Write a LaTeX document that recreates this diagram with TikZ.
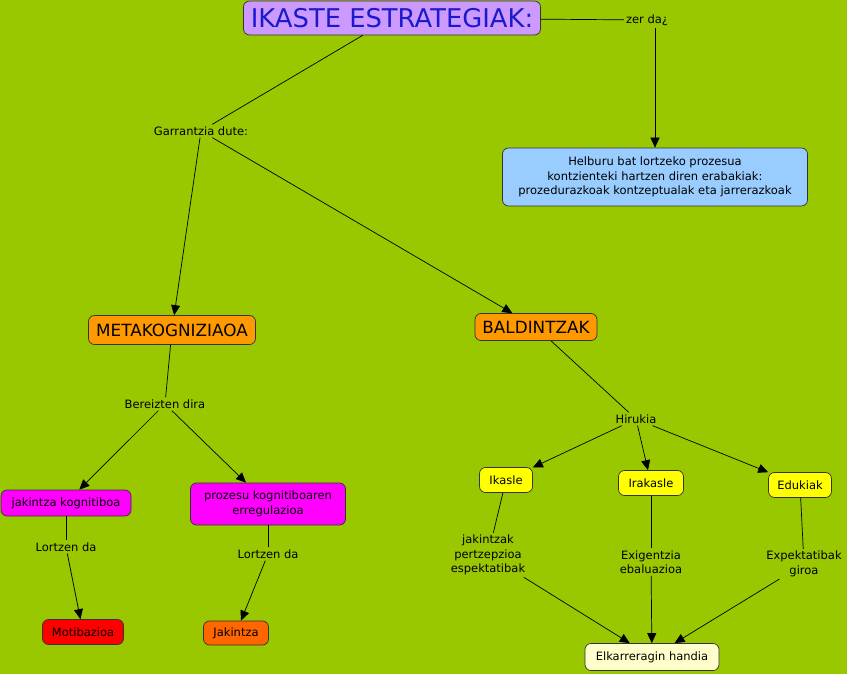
\documentclass[tikz,border=0pt]{standalone}
\usepackage{fontspec}
\setmainfont{DejaVu Sans}
\usepackage{xcolor}
\usetikzlibrary{arrows.meta, positioning}

\definecolor{bggreen}{HTML}{99C800}
\definecolor{lavender}{HTML}{CC99FF}
\definecolor{skyblue}{HTML}{99CCFF}
\definecolor{orangebox}{HTML}{FF9900}
\definecolor{darkorange}{HTML}{FF6600}
\definecolor{pinkbox}{HTML}{FF00FF}
\definecolor{redbox}{HTML}{FF0000}
\definecolor{yellowbox}{HTML}{FFFF00}
\definecolor{paleyellow}{HTML}{FFFFCC}
\definecolor{titleblue}{HTML}{1A1ACC}

\begin{document}
\begin{tikzpicture}[
      x=1pt, y=-1pt,
      box/.style={draw=black!80, line width=0.7pt, rounded corners=6pt, align=center, inner sep=2pt, font=\fontsize{11.5}{14.5}\selectfont},
      bigbox/.style={box, fill=orangebox, font=\fontsize{16.8}{20}\selectfont},
      lbl/.style={align=center, inner sep=2pt, font=\fontsize{11.5}{14.5}\selectfont},
      arr/.style={-{Triangle[length=10pt, width=9pt]}, line width=0.7pt},
      ln/.style={line width=0.7pt}
    ]
    \fill[bggreen] (0,0) rectangle (847,674);
    % top
    \node[box, fill=lavender, text=titleblue, minimum width=297pt, minimum height=34pt, font=\fontsize{25.8}{30}\selectfont] (title) at (392,18) {IKASTE ESTRATEGIAK:};
    \node[lbl] (zerda) at (647,20) {zer da¿};
    \node[box, fill=skyblue, minimum width=305pt, minimum height=58pt] (helb) at (655,177) {Helburu bat lortzeko prozesua\\kontzienteki hartzen diren erabakiak:\\prozedurazkoak kontzeptualak eta jarrerazkoak};
    \node[lbl] (garr) at (201,131) {Garrantzia dute:};
    \draw[ln] (title) -- (zerda);
    \draw[arr] (zerda.south -| helb.north) -- (helb.north);
    \draw[ln] (title) -- (garr);
    % metakognizioa
    \node[bigbox, minimum width=167pt, minimum height=29pt] (meta) at (172,330) {METAKOGNIZIAOA};
    \node[bigbox, minimum width=122pt, minimum height=27pt] (bald) at (536,327) {BALDINTZAK};
    \draw[arr] (garr) -- (meta);
    \draw[arr] (garr) -- (bald);
    \node[lbl] (bereiz) at (165,404) {Bereizten dira};
    \node[box, fill=pinkbox, minimum width=130pt, minimum height=26pt] (jakkog) at (66,503) {jakintza kognitiboa};
    \node[box, fill=pinkbox, minimum width=155pt, minimum height=42pt] (proz) at (268,504) {prozesu kognitiboaren\\erregulazioa};
    \draw[ln] (meta) -- (bereiz);
    \draw[arr] (bereiz) -- (jakkog);
    \draw[arr] (bereiz) -- (proz);
    \node[lbl] (lortzA) at (66,547) {Lortzen da};
    \node[lbl] (lortzB) at (268,554) {Lortzen da};
    \node[box, fill=redbox, minimum width=81pt, minimum height=25pt] (motib) at (83,632) {Motibazioa};
    \node[box, fill=darkorange, minimum width=65pt, minimum height=24pt] (jakin) at (236,633) {Jakintza};
    \draw[ln] (jakkog) -- (lortzA);
    \draw[arr] (lortzA) -- (motib);
    \draw[ln] (proz) -- (lortzB);
    \draw[arr] (lortzB) -- (jakin);
    % baldintzak
    \node[lbl] (hiru) at (636,419) {Hirukia};
    \node[box, fill=yellowbox, minimum width=53pt, minimum height=25pt] (ikasle) at (506,480) {Ikasle};
    \node[box, fill=yellowbox, minimum width=65pt, minimum height=25pt] (irak) at (651,483) {Irakasle};
    \node[box, fill=yellowbox, minimum width=63pt, minimum height=25pt] (eduk) at (800,485) {Edukiak};
    \draw[ln] (bald) -- (hiru);
    \draw[arr] (hiru) -- (ikasle);
    \draw[arr] (hiru) -- (irak);
    \draw[arr] (hiru) -- (eduk);
    \node[lbl] (jakpert) at (488,555) {jakintzak\\pertzepzioa\\espektatibak};
    \node[lbl] (exig) at (651,562) {Exigentzia\\ebaluazioa};
    \node[lbl] (expek) at (804,564) {Expektatibak\\giroa};
    \node[box, fill=paleyellow, minimum width=134pt, minimum height=27pt] (elkar) at (652,657) {Elkarreragin handia};
    \draw[ln] (ikasle) -- (jakpert);
    \draw[ln] (irak) -- (exig);
    \draw[ln] (eduk) -- (expek);
    \draw[arr] (jakpert) -- (elkar);
    \draw[arr] (exig) -- (elkar);
    \draw[arr] (expek) -- (elkar);
  \end{tikzpicture}
\end{document}
